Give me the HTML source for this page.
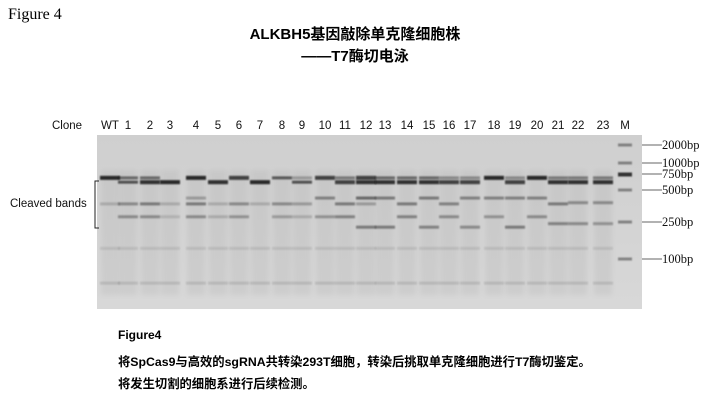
<!DOCTYPE html>
<html><head><meta charset="utf-8">
<style>
body{margin:0;background:#fff;}
#wrap{position:relative;width:720px;height:405px;overflow:hidden;background:#fff;}
.t{position:absolute;white-space:nowrap;}
</style></head>
<body>
<div id="wrap">
<div class="t" style="left:8px;top:6px;font:16px 'Liberation Serif',serif;">Figure 4</div>
<div class="t" style="left:0;width:710px;text-align:center;top:24px;font:bold 15px 'Liberation Sans','Noto Sans CJK SC',sans-serif;line-height:22px;">ALKBH5基因敲除单克隆细胞株<br>——T7酶切电泳</div>
<div class="t" style="left:118px;top:328px;font:bold 12px 'Liberation Sans',sans-serif;">Figure4</div>
<div class="t" style="left:118px;top:352px;font:bold 12.3px 'Liberation Sans','Noto Sans CJK SC',sans-serif;">将SpCas9与高效的sgRNA共转染293T细胞，转染后挑取单克隆细胞进行T7酶切鉴定。</div>
<div class="t" style="left:118px;top:374px;font:bold 12.3px 'Liberation Sans','Noto Sans CJK SC',sans-serif;">将发生切割的细胞系进行后续检测。</div>
<svg id="gel" width="720" height="405" style="position:absolute;left:0;top:0">
<defs><filter id="bl" x="-20%" y="-200%" width="140%" height="500%"><feGaussianBlur stdDeviation="0.8"/></filter>
<filter id="bl2" x="-50%" y="-5%" width="200%" height="110%"><feGaussianBlur stdDeviation="2.5"/></filter>
<linearGradient id="bg" x1="0" y1="0" x2="0" y2="1"><stop offset="0" stop-color="#cfcfcf"/><stop offset="1" stop-color="#d8d8d8"/></linearGradient></defs>
</svg>
</div>
<script>
const laneLabels=["WT","1","2","3","4","5","6","7","8","9","10","11","12","13","14","15","16","17","18","19","20","21","22","23","M"];
const laneBands=[
[[680,1],[370,.2]],
[[680,.6],[610,.75],[370,.4],[280,.4]],
[[680,.6],[610,.95],[370,.5],[280,.4]],
[[610,1],[370,.2],[280,.15]],
[[680,1],[420,.3],[370,.5],[280,.4]],
[[610,.95],[370,.2],[280,.2]],
[[680,.85],[370,.4],[280,.35]],
[[610,1],[370,.2]],
[[680,.7],[370,.4],[280,.3]],
[[680,.3],[610,.75],[370,.3],[280,.2]],
[[680,.85],[420,.45],[280,.35]],
[[680,.5],[610,.85],[370,.5],[280,.45]],
[[680,.85],[610,.95],[420,.6],[370,.3],[220,.5]],
[[680,.6],[610,.95],[420,.5],[220,.5]],
[[680,.6],[610,.95],[370,.5],[280,.45]],
[[680,.6],[610,.95],[420,.5],[220,.45]],
[[680,.4],[610,.85],[370,.45],[280,.4]],
[[680,.4],[610,.85],[420,.45],[220,.4]],
[[680,1],[420,.45],[280,.35]],
[[680,.4],[610,.85],[420,.45],[220,.5]],
[[680,1],[420,.45],[280,.4]],
[[680,.5],[610,.95],[370,.5],[240,.45]],
[[680,.5],[610,.95],[380,.4],[240,.4]],
[[680,.5],[610,.95],[380,.4],[240,.35]]
];
const faintBands=[[130,.1],[55,.13]];
const markerBp=[2000,1000,750,500,250,100];
const markerLabels=["2000bp","1000bp","750bp","500bp","250bp","100bp"];
const markerY=[145,163,174,190,222,259];
const laneX=[110,128,150,170,196,218,239,260,282,302,325,345,366,385,407,429,449,470,494,515,537,558,578,603,625];
function yOf(bp){
  const l=Math.log(bp);
  for(let i=0;i<markerBp.length-1;i++){
    const a=Math.log(markerBp[i]),b=Math.log(markerBp[i+1]);
    if(l<=a&&l>=b){return markerY[i]+(a-l)/(a-b)*(markerY[i+1]-markerY[i]);}
  }
  const i=markerBp.length-2,a=Math.log(markerBp[i]),b=Math.log(markerBp[i+1]);
  return markerY[i]+(a-l)/(a-b)*(markerY[i+1]-markerY[i]);
}
const svg=document.getElementById('gel');const NS='http://www.w3.org/2000/svg';
function mk(t,at){const e=document.createElementNS(NS,t);for(const k in at)e.setAttribute(k,at[k]);svg.appendChild(e);return e;}
let g=mk('rect',{x:97,y:135,width:545,height:174,fill:'url(#bg)'});


laneBands.forEach((bands,i)=>{
  const x=laneX[i];
  const s=mk('rect',{x:x-9,y:170,width:18,height:125,fill:'#888',opacity:0.12,filter:'url(#bl2)'});
  
  
  bands.concat(faintBands).forEach(([bp,a])=>{
    const h=a>0.8?4:3;
    const r=mk('rect',{x:x-10,y:yOf(bp)-h/2,width:20,height:h,fill:'#111',opacity:Math.min(1,a*0.85),filter:'url(#bl)'});
    
    
  });
});
markerBp.forEach((bp,i)=>{
  const y=yOf(bp);
  const r=mk('rect',{x:laneX[24]-7,y:y-1.5,width:14,height:bp==750?4:3,fill:'#222',opacity:bp==750?0.9:0.45,filter:'url(#bl)'});
  
  
  const ln=mk('line',{x1:642,x2:662,y1:y,y2:y,stroke:'#333','stroke-width':0.8});
  
  
  const t=mk('text',{x:662,y:y+4,'font-family':'Liberation Serif,serif','font-size':12.5,fill:'#111'});
  t.textContent=markerLabels[i];
  
  
});
laneLabels.forEach((l,i)=>{
  const t=mk('text',{x:laneX[i],y:129,'text-anchor':'middle','font-family':'Liberation Sans,sans-serif','font-size':11.5,fill:'#111'});
  t.textContent=l;
  
  
});
let c=mk('text',{x:52,y:129,'font-family':'Liberation Sans,sans-serif','font-size':11.5,fill:'#111'});c.textContent='Clone';


let cb=mk('text',{x:10,y:207,'font-family':'Liberation Sans,sans-serif','font-size':11.5,fill:'#111'});cb.textContent='Cleaved bands';


let br=mk('path',{d:'M99,181 H95 V228 H99',fill:'none',stroke:'#222','stroke-width':1});


</script>
</body></html>
